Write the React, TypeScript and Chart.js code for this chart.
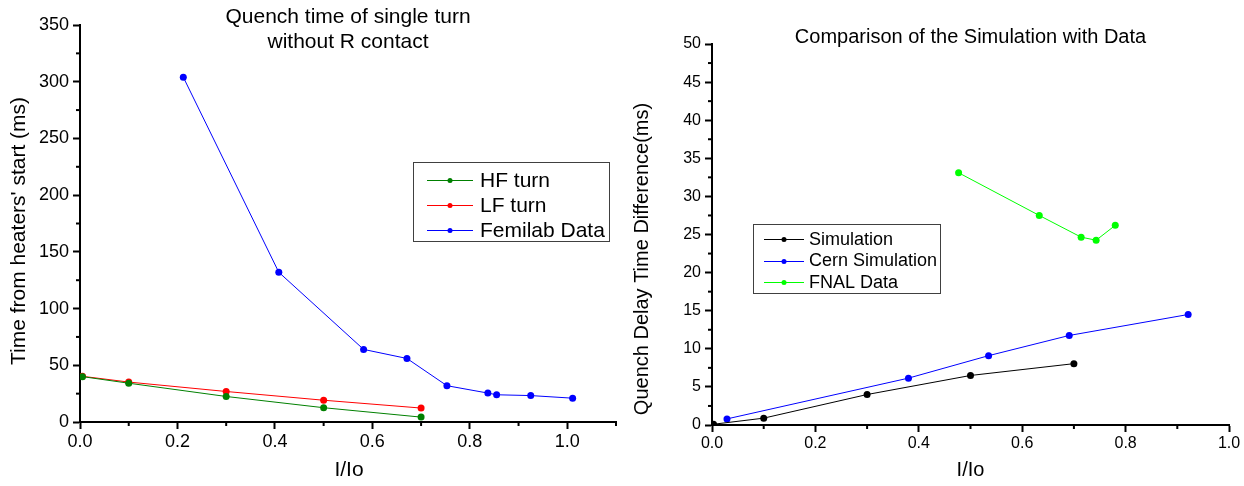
import React, { useEffect, useRef } from "react";
import { Chart, registerables } from "chart.js";
Chart.register(...registerables);

const FONT = 'Arial, "Liberation Sans", sans-serif';

// ---------- Left chart data ----------
const leftTitle = ["Quench time of single turn", "without R contact"];
const leftXLabel = "I/Io";
const leftYLabel = "Time from heaters' start (ms)";
const hfLabel = "HF turn";
const hfX = [0.005, 0.1, 0.3, 0.5, 0.7];
const hfY = [40, 34.2, 22.5, 12.6, 4.3];
const lfLabel = "LF turn";
const lfX = [0.005, 0.1, 0.3, 0.5, 0.7];
const lfY = [40.3, 35.2, 26.9, 19.2, 12.3];
const femLabel = "Femilab Data";
const femX = [0.212, 0.408, 0.582, 0.671, 0.753, 0.837, 0.855, 0.925, 1.011];
const femY = [304, 132, 64, 56, 32, 25.5, 24, 23.3, 21];

// ---------- Right chart data ----------
const rightTitle = ["Comparison of the Simulation with Data"];
const rightXLabel = "I/Io";
const rightYLabel = "Quench Delay Time Difference(ms)";
const simLabel = "Simulation";
const simX = [0.003, 0.1, 0.3, 0.5, 0.7];
const simY = [0.1, 0.9, 4.0, 6.5, 8.05];
const cernLabel = "Cern Simulation";
const cernX = [0.029, 0.38, 0.535, 0.691, 0.921];
const cernY = [0.8, 6.15, 9.1, 11.75, 14.5];
const fnalLabel = "FNAL Data";
const fnalX = [0.477, 0.633, 0.714, 0.743, 0.78];
const fnalY = [33.1, 27.5, 24.65, 24.25, 26.2];

const pts = (xs: number[], ys: number[]) => xs.map((x, i) => ({ x, y: ys[i] }));

function ds(label: string, xs: number[], ys: number[], color: string, lineColor: string) {
  return {
    label,
    data: pts(xs, ys),
    borderColor: lineColor,
    backgroundColor: color,
    borderWidth: 1,
    pointRadius: 3.5,
    pointBorderWidth: 0,
    pointBackgroundColor: color,
    tension: 0,
    fill: false,
  };
}

// plugin: minor ticks, title lines, axis titles, legend box
const decorPlugin = {
  id: "decor",
  afterDraw(chart: any, _args: any, opts: any) {
    const ctx = chart.ctx;
    const ca = chart.chartArea;
    ctx.save();
    // minor ticks
    const minor = opts.minor || {};
    ctx.strokeStyle = "#000";
    ctx.lineWidth = 2;
    for (const id of Object.keys(minor)) {
      const m = minor[id];
      const sc = chart.scales[id];
      const n = Math.round((m.max - m.min) / m.step);
      for (let i = 0; i <= n; i++) {
        if (i % m.ratio === 0) continue;
        const v = m.min + i * m.step;
        const p = sc.getPixelForValue(v);
        ctx.beginPath();
        if (sc.isHorizontal()) {
          ctx.moveTo(p, ca.bottom);
          ctx.lineTo(p, ca.bottom + 4);
        } else {
          ctx.moveTo(ca.left, p);
          ctx.lineTo(ca.left - 4, p);
        }
        ctx.stroke();
      }
    }
    ctx.fillStyle = "#000";
    // title
    const t = opts.title;
    if (t) {
      ctx.font = `${t.size}px ${FONT}`;
      ctx.textAlign = "center";
      ctx.textBaseline = "middle";
      const cx = (ca.left + ca.right) / 2;
      t.lines.forEach((s: string, i: number) => ctx.fillText(s, cx, t.y + i * t.lh));
    }
    // axis titles
    const a = opts.axes;
    if (a) {
      ctx.font = `${a.size}px ${FONT}`;
      ctx.textAlign = "center";
      ctx.textBaseline = "middle";
      ctx.fillText(a.xText, (ca.left + ca.right) / 2 + a.xdx, a.xy);
      ctx.save();
      ctx.translate(a.yx, a.yy);
      ctx.rotate(-Math.PI / 2);
      ctx.fillText(a.yText, 0, 0);
      ctx.restore();
    }
    // legend
    const L = opts.legend;
    if (L) {
      ctx.fillStyle = "#fff";
      ctx.fillRect(L.x, L.y, L.w, L.h);
      ctx.strokeStyle = "#404040";
      ctx.lineWidth = 1;
      ctx.strokeRect(L.x + 0.5, L.y + 0.5, L.w - 1, L.h - 1);
      ctx.font = `${L.size}px ${FONT}`;
      ctx.textAlign = "left";
      ctx.textBaseline = "middle";
      chart.data.datasets.forEach((d: any, i: number) => {
        const y = L.y + L.first + i * L.row;
        ctx.strokeStyle = d.borderColor;
        ctx.lineWidth = 1;
        ctx.beginPath();
        ctx.moveTo(L.x + L.l1, Math.round(y) + 0.5);
        ctx.lineTo(L.x + L.l2, Math.round(y) + 0.5);
        ctx.stroke();
        ctx.fillStyle = d.pointBackgroundColor;
        ctx.beginPath();
        ctx.arc(L.x + (L.l1 + L.l2) / 2, Math.round(y) + 0.5, 2.5, 0, Math.PI * 2);
        ctx.fill();
        ctx.fillStyle = "#000";
        ctx.fillText(d.label, L.x + L.tx, y + 1);
      });
    }
    ctx.restore();
  },
};

function makeScales(o: any) {
  return {
    x: {
      type: "linear",
      min: o.xmin,
      max: o.xmax,
      afterFit: (s: any) => {
        s.height = o.xh;
      },
      border: { display: true, color: "#000", width: 2 },
      grid: { drawOnChartArea: false, drawTicks: true, tickLength: 7, tickWidth: 2, tickColor: "#000" },
      ticks: {
        stepSize: o.xstep,
        includeBounds: false,
        autoSkip: false,
        maxRotation: 0,
        padding: 2,
        color: "#000",
        font: { family: FONT, size: o.tick },
        callback: (v: number) => v.toFixed(1),
      },
    },
    y: {
      type: "linear",
      min: o.ymin,
      max: o.ymax,
      afterFit: (s: any) => {
        s.width = o.yw;
      },
      border: { display: true, color: "#000", width: 2 },
      grid: { drawOnChartArea: false, drawTicks: true, tickLength: 7, tickWidth: 2, tickColor: "#000" },
      ticks: {
        stepSize: o.ystep,
        includeBounds: false,
        autoSkip: false,
        padding: 4,
        color: "#000",
        font: { family: FONT, size: o.tick },
        callback: (v: number) => String(v),
      },
    },
  };
}

function ChartBox({ config, left }: { config: any; left: number }) {
  const ref = useRef<HTMLCanvasElement>(null);
  useEffect(() => {
    const c = new Chart(ref.current as HTMLCanvasElement, config);
    return () => c.destroy();
  }, []);
  return (
    <div style={{ position: "absolute", left, top: 0, width: 622, height: 486 }}>
      <canvas ref={ref} width={622} height={486} style={{ width: 622, height: 486, display: "block" }} />
    </div>
  );
}

const leftConfig = {
  type: "line",
  data: {
    datasets: [
      ds(hfLabel, hfX, hfY, "#008000", "#008000"),
      ds(lfLabel, lfX, lfY, "#ff0000", "#ff0000"),
      ds(femLabel, femX, femY, "#0000ff", "#0000ff"),
    ],
  },
  options: {
    animation: false,
    responsive: false,
    devicePixelRatio: 1,
    layout: { padding: { left: 0, right: 6, top: 25, bottom: 0 } },
    plugins: {
      legend: { display: false },
      tooltip: { enabled: false },
      decor: {
        minor: {
          x: { min: 0, max: 1.1, step: 0.1, ratio: 2 },
          y: { min: 0, max: 350, step: 25, ratio: 2 },
        },
        title: { lines: leftTitle, size: 21, y: 17, lh: 25 },
        axes: { size: 21, xText: leftXLabel, xy: 470, xdx: 1, yText: leftYLabel, yx: 19, yy: 231 },
        legend: { x: 413, y: 162, w: 197, h: 80, first: 18, row: 25, l1: 14, l2: 60, tx: 67, size: 21 },
      },
    },
    scales: makeScales({
      xmin: 0, xmax: 1.1, xstep: 0.2, ymin: 0, ymax: 350, ystep: 50,
      xh: 64, yw: 80, tick: 18,
    }),
  },
  plugins: [decorPlugin],
};

const rightConfig = {
  type: "line",
  data: {
    datasets: [
      ds(simLabel, simX, simY, "#000000", "#000000"),
      ds(cernLabel, cernX, cernY, "#0000ff", "#0000ff"),
      ds(fnalLabel, fnalX, fnalY, "#00ff00", "#00ff00"),
    ],
  },
  options: {
    animation: false,
    responsive: false,
    devicePixelRatio: 1,
    layout: { padding: { left: 0, right: 15, top: 44, bottom: 0 } },
    plugins: {
      legend: { display: false },
      tooltip: { enabled: false },
      decor: {
        minor: {
          x: { min: 0, max: 1.0, step: 0.1, ratio: 2 },
          y: { min: 0, max: 50, step: 2.5, ratio: 2 },
        },
        title: { lines: rightTitle, size: 20, y: 37, lh: 24 },
        axes: { size: 20, xText: rightXLabel, xy: 470, xdx: 0, yText: rightYLabel, yx: 20, yy: 259 },
        legend: { x: 131, y: 224, w: 188, h: 70, first: 15, row: 21.5, l1: 11, l2: 51, tx: 56, size: 18 },
      },
    },
    scales: makeScales({
      xmin: 0, xmax: 1.0, xstep: 0.2, ymin: 0, ymax: 50, ystep: 5,
      xh: 61, yw: 90, tick: 16,
    }),
  },
  plugins: [decorPlugin],
};

export default function App() {
  return (
    <div style={{ position: "absolute", left: 0, top: 0, width: 1244, height: 486, background: "#fff" }}>
      <ChartBox config={leftConfig} left={0} />
      <ChartBox config={rightConfig} left={622} />
    </div>
  );
}
